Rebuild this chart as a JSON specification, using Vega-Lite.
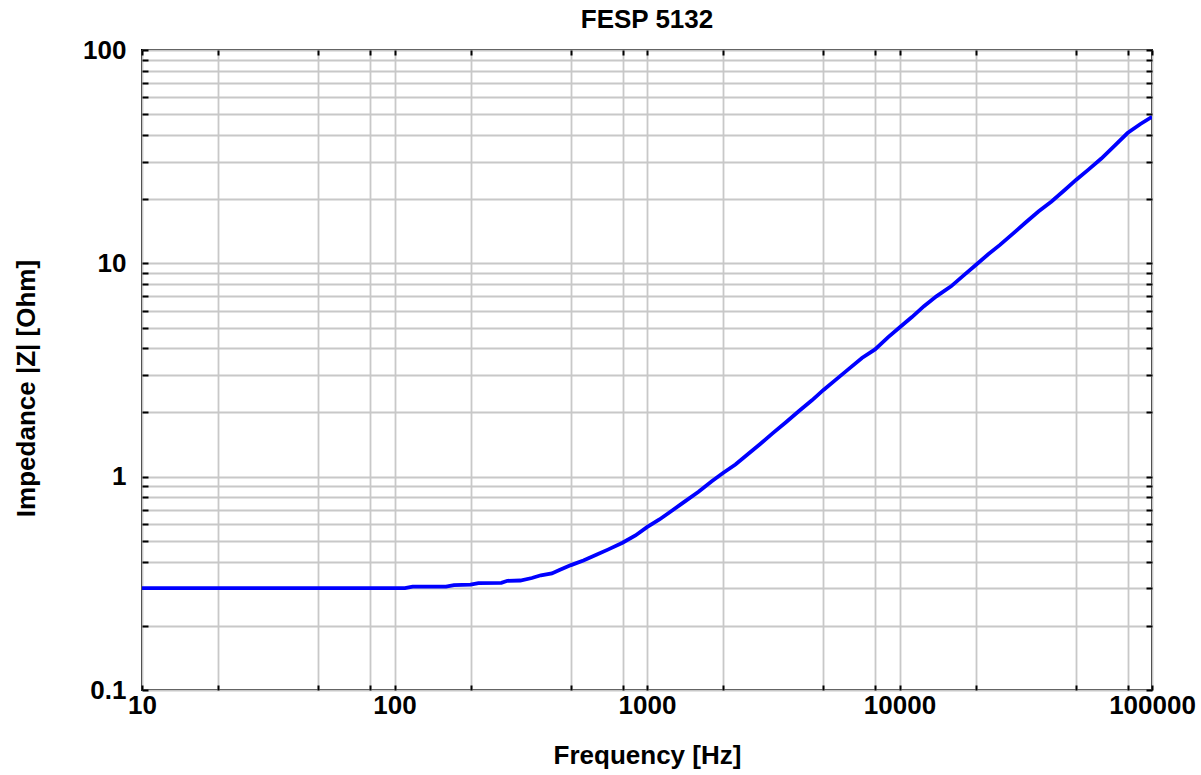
{
  "$schema": "https://vega.github.io/schema/vega-lite/v6.json",
  "width": 1010,
  "height": 640,
  "autosize": {"type": "none"},
  "padding": {"left": 142, "top": 50, "right": 49, "bottom": 85},
  "background": "white",
  "title": {"text": "FESP 5132", "fontSize": 26, "font": "Liberation Sans", "fontWeight": "bold", "color": "black", "offset": 4, "anchor": "middle"},
  "config": {
    "view": {"stroke": "black", "strokeWidth": 2},
    "axis": {
      "domain": false,
      "labelFont": "Liberation Sans",
      "labelFontWeight": "bold",
      "labelFontSize": 26,
      "labelColor": "black",
      "titleFont": "Liberation Sans",
      "titleFontWeight": "bold",
      "titleFontSize": 26,
      "titleColor": "black",
      "gridColor": "#c8c8c8",
      "gridWidth": 1.8,
      "gridOpacity": 1,
      "tickColor": "black",
      "tickWidth": 2,
      "labelOverlap": false,
      "labelFlush": false,
      "labelBound": false
    }
  },
  "data": {"values": [
    {"f": 10, "z": 0.3}, {"f": 20, "z": 0.3}, {"f": 50, "z": 0.3}, {"f": 100, "z": 0.3}, {"f": 110, "z": 0.3},
    {"f": 118, "z": 0.305}, {"f": 160, "z": 0.305}, {"f": 172, "z": 0.31}, {"f": 200, "z": 0.312},
    {"f": 215, "z": 0.317}, {"f": 265, "z": 0.318}, {"f": 280, "z": 0.325}, {"f": 315, "z": 0.326},
    {"f": 350, "z": 0.335}, {"f": 380, "z": 0.345}, {"f": 420, "z": 0.352}, {"f": 450, "z": 0.365},
    {"f": 500, "z": 0.385}, {"f": 560, "z": 0.405}, {"f": 630, "z": 0.43}, {"f": 700, "z": 0.455},
    {"f": 800, "z": 0.49}, {"f": 900, "z": 0.53}, {"f": 1000, "z": 0.58}, {"f": 1120, "z": 0.63},
    {"f": 1250, "z": 0.69}, {"f": 1400, "z": 0.76}, {"f": 1600, "z": 0.85}, {"f": 1800, "z": 0.95},
    {"f": 2000, "z": 1.04}, {"f": 2240, "z": 1.14}, {"f": 2500, "z": 1.27}, {"f": 2800, "z": 1.42},
    {"f": 3150, "z": 1.6}, {"f": 3550, "z": 1.8}, {"f": 4000, "z": 2.03}, {"f": 4500, "z": 2.28},
    {"f": 5000, "z": 2.55}, {"f": 5600, "z": 2.85}, {"f": 6300, "z": 3.2}, {"f": 7100, "z": 3.6},
    {"f": 8000, "z": 3.95}, {"f": 9000, "z": 4.5}, {"f": 10000, "z": 5.0}, {"f": 11200, "z": 5.6},
    {"f": 12500, "z": 6.3}, {"f": 14000, "z": 7.0}, {"f": 16000, "z": 7.8}, {"f": 18000, "z": 8.8},
    {"f": 20000, "z": 9.8}, {"f": 22400, "z": 11.0}, {"f": 25000, "z": 12.2}, {"f": 28000, "z": 13.7},
    {"f": 31500, "z": 15.5}, {"f": 35500, "z": 17.5}, {"f": 40000, "z": 19.5}, {"f": 45000, "z": 22.0},
    {"f": 50000, "z": 24.6}, {"f": 56000, "z": 27.5}, {"f": 63000, "z": 31.0}, {"f": 71000, "z": 35.5},
    {"f": 80000, "z": 40.8}, {"f": 90000, "z": 45.0}, {"f": 100000, "z": 48.6}
  ]},
  "layer": [
    {
      "mark": {"type": "line", "color": "#0000ff", "strokeWidth": 3.8, "clip": true},
      "encoding": {
        "x": {
          "field": "f", "type": "quantitative",
          "scale": {"type": "log", "domain": [10, 100000], "nice": false},
          "axis": {
            "orient": "bottom",
            "values": [10, 20, 50, 80, 100, 200, 500, 800, 1000, 2000, 5000, 8000, 10000, 20000, 50000, 80000, 100000],
            "labelExpr": "datum.value == 10 || datum.value == 100 || datum.value == 1000 || datum.value == 10000 || datum.value == 100000 ? format(datum.value, 'd') : ''",
            "grid": true,
            "ticks": true,
            "tickSize": -5,
            "labelPadding": 7,
            "title": "Frequency [Hz]",
            "titleX": 505,
            "titleY": 65,
            "titleBaseline": "middle"
          }
        },
        "y": {
          "field": "z", "type": "quantitative",
          "scale": {"type": "log", "domain": [0.1, 100], "nice": false},
          "axis": {
            "orient": "left",
            "values": [0.1, 0.2, 0.3, 0.4, 0.5, 0.6, 0.7, 0.8, 0.9, 1, 2, 3, 4, 5, 6, 7, 8, 9, 10, 20, 30, 40, 50, 60, 70, 80, 90, 100],
            "labelExpr": "datum.value == 0.1 ? '0.1' : datum.value == 1 ? '1' : datum.value == 10 ? '10' : datum.value == 100 ? '100' : ''",
            "grid": true,
            "ticks": true,
            "tickSize": -6,
            "labelPadding": 22,
            "title": "Impedance |Z| [Ohm]",
            "titleAngle": -90,
            "titleX": -116,
            "titleY": 338,
            "titleBaseline": "middle",
            "titleAlign": "center"
          }
        }
      }
    },
    {
      "mark": {"type": "line", "opacity": 0},
      "encoding": {
        "x": {
          "field": "f", "type": "quantitative",
          "scale": {"type": "log", "domain": [10, 100000], "nice": false},
          "axis": {
            "orient": "top",
            "values": [10, 20, 50, 80, 100, 200, 500, 800, 1000, 2000, 5000, 8000, 10000, 20000, 50000, 80000, 100000],
            "labels": false, "grid": false, "ticks": true, "tickSize": -5, "title": null
          }
        },
        "y": {
          "field": "z", "type": "quantitative",
          "scale": {"type": "log", "domain": [0.1, 100], "nice": false},
          "axis": {
            "orient": "right",
            "values": [0.1, 0.2, 0.3, 0.4, 0.5, 0.6, 0.7, 0.8, 0.9, 1, 2, 3, 4, 5, 6, 7, 8, 9, 10, 20, 30, 40, 50, 60, 70, 80, 90, 100],
            "labels": false, "grid": false, "ticks": true, "tickSize": -6, "title": null
          }
        }
      }
    }
  ],
  "resolve": {"axis": {"x": "independent", "y": "independent"}}
}
